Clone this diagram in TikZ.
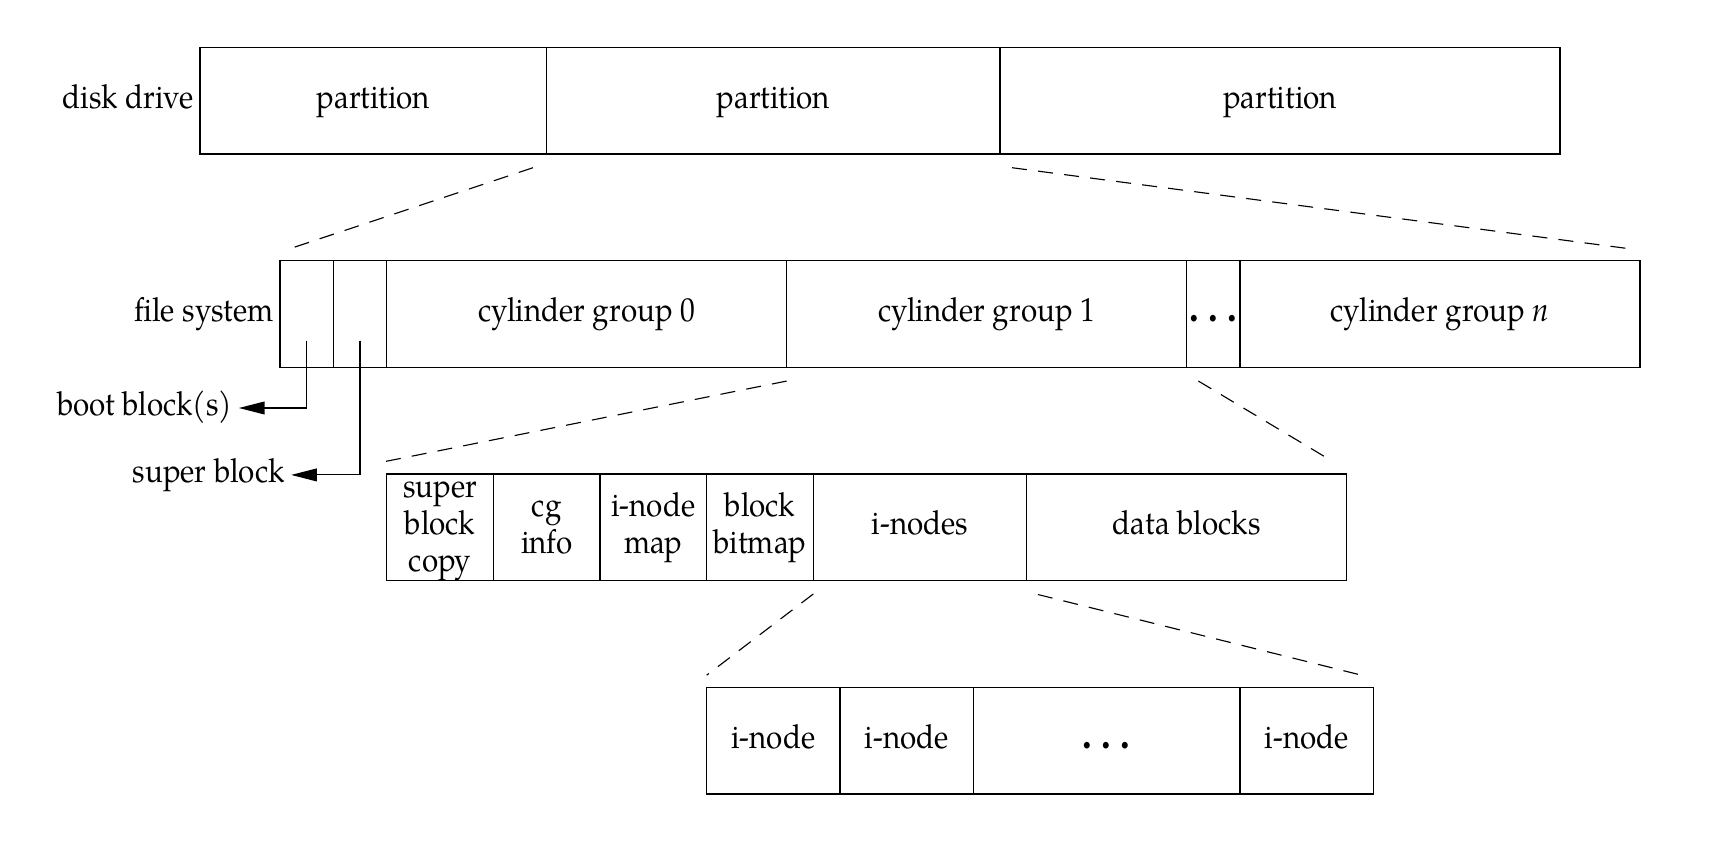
\documentclass[tikz,border=0pt]{standalone}
\usepackage{fontspec}
\setmainfont{TeX Gyre Pagella}[FakeStretch=0.89]
\usepackage{tikz}
\usetikzlibrary{positioning, arrows.meta}

\newcommand{\bigdot}{\scalebox{1.3}{\bfseries .}}
\newcommand{\spreaddots}{\bigdot\kern.28em\bigdot\kern.28em\bigdot}
\newcommand{\cellstrut}{\rule[-4.8pt]{0pt}{17.6pt}}

\begin{document}
\begin{tikzpicture}[
    font=\fontsize{17.7}{19.6}\selectfont,
    cell/.style={draw, line width=0.7pt, minimum height=2cm, inner sep=0pt, outer sep=0pt, align=center},
    onecell/.style={cell, text height=12.8pt, text depth=4.8pt},
    lbl/.style={text height=12.8pt, text depth=4.8pt},
    zoomline/.style={line width=0.6pt, dash pattern=on 8pt off 6pt},
    pointer/.style={line width=0.6pt, -{Triangle[length=0.48cm, width=0.24cm]}}
]
    \useasboundingbox (0,0) rectangle (32.325,-16.09);

    % Disco e particoes
    \node[onecell, minimum width=6.5cm, anchor=north west] (part1) at (3.75,-0.885) {partition};
    \node[onecell, minimum width=8.5cm, right=0pt of part1] (part2) {partition};
    \node[onecell, minimum width=10.5cm, right=0pt of part2] (part3) {partition};
    \node[lbl, left=0pt of part1] (disk) {disk drive};

    % Sistema de arquivos
    \node[cell, minimum width=1cm, anchor=north west] (boot) at (5.25,-4.885) {};
    \node[cell, minimum width=1cm, right=0pt of boot] (super) {};
    \node[onecell, minimum width=7.5cm, right=0pt of super] (cg0) {cylinder group 0};
    \node[onecell, minimum width=7.5cm, right=0pt of cg0] (cg1) {cylinder group 1};
    \node[onecell, minimum width=1cm, right=0pt of cg1] (cgdots) {\spreaddots};
    \node[onecell, minimum width=7.5cm, right=0pt of cgdots] (cgn) {cylinder group \textit{n}};
    \node[lbl, left=0pt of boot] (fs) {file system};

    % Boot block e super block
    \node[lbl, anchor=east] (bootlbl) at (4.48,-7.65) {boot block(s)};
    \node[lbl, anchor=east] (superlbl) at (5.46,-8.905) {super block};
    \draw[pointer] ([yshift=0.5cm]boot.south) |- (bootlbl);
    \draw[pointer] ([yshift=0.5cm]super.south) |- (superlbl);

    % Grupo de cilindros
    \node[cell, minimum width=2cm, anchor=north west] (sbcopy) at (7.25,-8.885) {\cellstrut super\\block\\copy\cellstrut};
    \node[cell, minimum width=2cm, right=0pt of sbcopy] (cginfo) {\cellstrut cg\\info\cellstrut};
    \node[cell, minimum width=2cm, right=0pt of cginfo] (imap) {\cellstrut i-node\\map\cellstrut};
    \node[cell, minimum width=2cm, right=0pt of imap] (bmap) {\cellstrut block\\bitmap\cellstrut};
    \node[onecell, minimum width=4cm, right=0pt of bmap] (inodes) {i-nodes};
    \node[onecell, minimum width=6cm, right=0pt of inodes] (data) {data blocks};

    % Tabela de i-nodes
    \node[onecell, minimum width=2.5cm, anchor=north west] (ino1) at (13.25,-12.885) {i-node};
    \node[onecell, minimum width=2.5cm, right=0pt of ino1] (ino2) {i-node};
    \node[onecell, minimum width=5cm, right=0pt of ino2] (inodots) {\spreaddots};
    \node[onecell, minimum width=2.5cm, right=0pt of inodots] (inon) {i-node};

    % Linhas tracejadas de ampliacao
    \draw[zoomline] ([shift={(-0.256,-0.26)}]part1.south east) -- ([shift={(0.207,0.229)}]boot.north west);
    \draw[zoomline] ([shift={(0.226,-0.26)}]part2.south east) -- ([shift={(-0.26,0.229)}]cgn.north east);
    \draw[zoomline] ([shift={(0,-0.26)}]cg0.south east) -- ([shift={(-0.035,0.23)}]sbcopy.north west);
    \draw[zoomline] ([shift={(0.22,-0.26)}]cgdots.south west) -- ([shift={(-0.255,0.23)}]data.north east);
    \draw[zoomline] ([shift={(0,-0.25)}]inodes.south west) -- ([shift={(0,0.225)}]ino1.north west);
    \draw[zoomline] ([shift={(0.21,-0.26)}]inodes.south east) -- ([shift={(-0.26,0.235)}]inon.north east);
\end{tikzpicture}
\end{document}
